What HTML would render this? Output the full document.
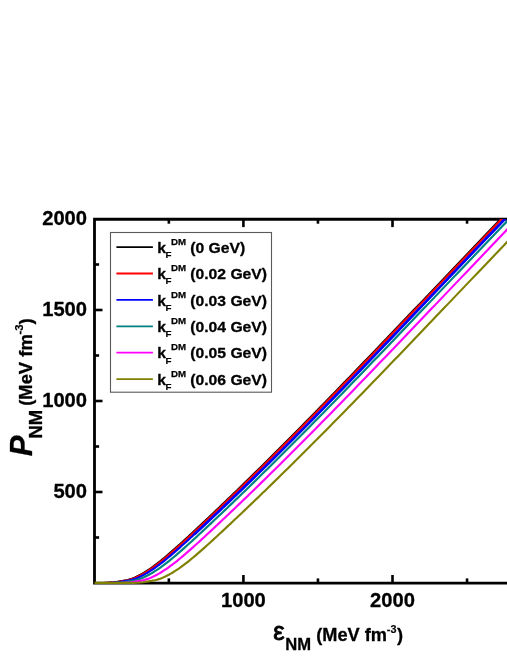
<!DOCTYPE html>
<html><head><meta charset="utf-8">
<style>
html,body{margin:0;padding:0;background:#fff;}
body{width:507px;height:656px;overflow:hidden;}
svg{display:block;will-change:transform;}
text{font-family:"Liberation Sans",sans-serif;font-weight:bold;fill:#000;stroke:#000;stroke-width:0.3px;stroke-linejoin:round;}
</style></head><body>
<svg width="507" height="656" viewBox="0 0 507 656">
<rect width="507" height="656" fill="#fff"/>
<!-- axes -->
<g stroke="#000" stroke-width="2.8" fill="none">
<path d="M510,219.25 L94.50,219.25 L94.50,583.15 L510,583.15" stroke-linejoin="miter"/>
</g>
<g stroke="#000" stroke-width="2.6">
<line x1="168.85" y1="583.00" x2="168.85" y2="578.40"/>
<line x1="168.85" y1="219.10" x2="168.85" y2="223.70"/>
<line x1="243.40" y1="583.00" x2="243.40" y2="575.00"/>
<line x1="243.40" y1="219.10" x2="243.40" y2="227.10"/>
<line x1="317.95" y1="583.00" x2="317.95" y2="578.40"/>
<line x1="317.95" y1="219.10" x2="317.95" y2="223.70"/>
<line x1="392.50" y1="583.00" x2="392.50" y2="575.00"/>
<line x1="392.50" y1="219.10" x2="392.50" y2="227.10"/>
<line x1="467.05" y1="583.00" x2="467.05" y2="578.40"/>
<line x1="467.05" y1="219.10" x2="467.05" y2="223.70"/>
<line x1="94.50" y1="537.50" x2="99.10" y2="537.50"/>
<line x1="94.50" y1="492.00" x2="102.50" y2="492.00"/>
<line x1="94.50" y1="446.50" x2="99.10" y2="446.50"/>
<line x1="94.50" y1="401.00" x2="102.50" y2="401.00"/>
<line x1="94.50" y1="355.50" x2="99.10" y2="355.50"/>
<line x1="94.50" y1="310.00" x2="102.50" y2="310.00"/>
<line x1="94.50" y1="264.50" x2="99.10" y2="264.50"/>
</g>
<!-- curves -->
<clipPath id="pc"><rect x="90" y="219.0" width="420" height="370"/></clipPath>
<g fill="none" stroke-width="2.15" stroke-linejoin="round" clip-path="url(#pc)">
<path d="M104.50,582.85 L106.50,582.81 L108.50,582.73 L110.50,582.63 L112.50,582.49 L114.50,582.27 L116.50,581.99 L118.50,581.68 L120.50,581.32 L122.50,580.96 L124.50,580.61 L126.50,580.22 L128.50,579.75 L130.50,579.15 L132.50,578.43 L134.50,577.63 L136.50,576.74 L138.50,575.78 L140.50,574.74 L142.50,573.63 L144.50,572.45 L146.50,571.21 L148.50,569.91 L150.50,568.55 L152.50,567.14 L154.50,565.68 L156.50,564.18 L158.50,562.63 L160.50,561.04 L162.50,559.42 L164.50,557.77 L166.50,556.08 L168.50,554.38 L170.50,552.65 L172.50,550.90 L174.50,549.14 L176.50,547.36 L178.50,545.56 L180.50,543.76 L182.50,541.94 L184.50,540.11 L186.50,538.27 L188.50,536.42 L190.50,534.57 L192.50,532.71 L194.50,530.84 L196.50,528.97 L198.50,527.10 L200.50,525.22 L202.50,523.35 L204.50,521.46 L206.50,519.58 L208.50,517.69 L210.50,515.80 L212.50,513.91 L214.50,512.01 L216.50,510.11 L218.50,508.20 L220.50,506.29 L222.50,504.38 L224.50,502.47 L226.50,500.55 L228.50,498.62 L230.50,496.70 L232.50,494.77 L234.50,492.84 L236.50,490.90 L238.50,488.96 L240.00,487.50 L245.00,482.64 L250.00,477.75 L255.00,472.84 L260.00,467.92 L265.00,462.97 L270.00,458.01 L275.00,453.04 L280.00,448.04 L285.00,443.03 L290.00,438.01 L295.00,432.96 L300.00,427.91 L305.00,422.84 L310.00,417.76 L315.00,412.66 L320.00,407.56 L325.00,402.44 L330.00,397.31 L335.00,392.17 L340.00,387.01 L345.00,381.85 L350.00,376.68 L355.00,371.50 L360.00,366.32 L365.00,361.12 L370.00,355.92 L375.00,350.71 L380.00,345.49 L385.00,340.27 L390.00,335.05 L395.00,329.82 L400.00,324.58 L405.00,319.35 L410.00,314.11 L415.00,308.86 L420.00,303.62 L425.00,298.37 L430.00,293.12 L435.00,287.88 L440.00,282.63 L445.00,277.38 L450.00,272.14 L455.00,266.89 L460.00,261.65 L465.00,256.41 L470.00,251.18 L475.00,245.94 L480.00,240.72 L485.00,235.49 L490.00,230.27 L495.00,225.06 L500.00,219.86 L505.00,214.66 L510.00,209.47 L515.00,204.28 L520.00,199.11" stroke="#000000"/>
<path d="M105.50,582.85 L107.50,582.81 L109.50,582.73 L111.50,582.63 L113.50,582.49 L115.50,582.27 L117.50,581.99 L119.50,581.68 L121.50,581.32 L123.50,580.96 L125.50,580.61 L127.50,580.22 L129.50,579.75 L131.50,579.15 L133.50,578.43 L135.50,577.63 L137.50,576.74 L139.50,575.78 L141.50,574.74 L143.50,573.63 L145.50,572.45 L147.50,571.21 L149.50,569.91 L151.50,568.55 L153.50,567.14 L155.50,565.68 L157.50,564.18 L159.50,562.63 L161.50,561.04 L163.50,559.42 L165.50,557.77 L167.50,556.08 L169.50,554.38 L171.50,552.65 L173.50,550.90 L175.50,549.14 L177.50,547.36 L179.50,545.56 L181.50,543.76 L183.50,541.94 L185.50,540.11 L187.50,538.27 L189.50,536.42 L191.50,534.57 L193.50,532.71 L195.50,530.84 L197.50,528.97 L199.50,527.10 L201.50,525.22 L203.50,523.35 L205.50,521.46 L207.50,519.58 L209.50,517.69 L211.50,515.80 L213.50,513.91 L215.50,512.01 L217.50,510.11 L219.50,508.20 L221.50,506.29 L223.50,504.38 L225.50,502.47 L227.50,500.55 L229.50,498.62 L231.50,496.70 L233.50,494.77 L235.50,492.84 L237.50,490.90 L239.50,488.96 L241.00,487.50 L246.00,482.64 L251.00,477.75 L256.00,472.84 L261.00,467.92 L266.00,462.97 L271.00,458.01 L276.00,453.04 L281.00,448.04 L286.00,443.03 L291.00,438.01 L296.00,432.96 L301.00,427.91 L306.00,422.84 L311.00,417.76 L316.00,412.66 L321.00,407.56 L326.00,402.44 L331.00,397.31 L336.00,392.17 L341.00,387.01 L346.00,381.85 L351.00,376.68 L356.00,371.50 L361.00,366.32 L366.00,361.12 L371.00,355.92 L376.00,350.71 L381.00,345.49 L386.00,340.27 L391.00,335.05 L396.00,329.82 L401.00,324.58 L406.00,319.35 L411.00,314.11 L416.00,308.86 L421.00,303.62 L426.00,298.37 L431.00,293.12 L436.00,287.88 L441.00,282.63 L446.00,277.38 L451.00,272.14 L456.00,266.89 L461.00,261.65 L466.00,256.41 L471.00,251.18 L476.00,245.94 L481.00,240.72 L486.00,235.49 L491.00,230.27 L496.00,225.06 L501.00,219.86 L506.00,214.66 L511.00,209.47 L516.00,204.28 L521.00,199.11" stroke="#ff0000"/>
<path d="M107.90,582.85 L109.90,582.81 L111.90,582.73 L113.90,582.63 L115.90,582.49 L117.90,582.27 L119.90,581.99 L121.90,581.68 L123.90,581.32 L125.90,580.96 L127.90,580.61 L129.90,580.22 L131.90,579.75 L133.90,579.15 L135.90,578.43 L137.90,577.63 L139.90,576.74 L141.90,575.78 L143.90,574.74 L145.90,573.63 L147.90,572.45 L149.90,571.21 L151.90,569.91 L153.90,568.55 L155.90,567.14 L157.90,565.68 L159.90,564.18 L161.90,562.63 L163.90,561.04 L165.91,559.42 L167.92,557.77 L169.93,556.08 L171.94,554.38 L173.95,552.65 L175.96,550.90 L177.97,549.14 L179.98,547.36 L181.99,545.56 L184.00,543.76 L186.01,541.94 L188.02,540.11 L190.03,538.27 L192.04,536.42 L194.05,534.57 L196.06,532.71 L198.07,530.84 L200.08,528.97 L202.09,527.10 L204.10,525.22 L206.11,523.35 L208.12,521.46 L210.13,519.58 L212.14,517.69 L214.15,515.80 L216.16,513.91 L218.17,512.01 L220.18,510.11 L222.19,508.20 L224.20,506.29 L226.21,504.38 L228.22,502.47 L230.23,500.55 L232.24,498.62 L234.25,496.70 L236.26,494.77 L238.27,492.84 L240.28,490.90 L242.29,488.96 L243.80,487.50 L248.82,482.64 L253.85,477.75 L258.88,472.84 L263.90,467.92 L268.93,462.97 L273.95,458.01 L278.98,453.04 L284.00,448.04 L289.02,443.03 L294.05,438.01 L299.07,432.96 L304.10,427.91 L309.10,422.84 L314.10,417.76 L319.10,412.66 L324.10,407.56 L329.10,402.44 L334.10,397.31 L339.10,392.17 L344.10,387.01 L349.10,381.85 L354.10,376.68 L359.10,371.50 L364.10,366.32 L369.10,361.12 L374.10,355.92 L379.10,350.71 L384.10,345.49 L389.10,340.27 L394.10,335.05 L399.10,329.82 L404.10,324.58 L409.10,319.35 L414.10,314.11 L419.10,308.86 L424.10,303.62 L429.10,298.37 L434.10,293.12 L439.10,287.88 L444.10,282.63 L449.10,277.38 L454.10,272.14 L459.10,266.89 L464.10,261.65 L469.10,256.41 L474.10,251.18 L479.10,245.94 L484.10,240.72 L489.10,235.49 L494.10,230.27 L499.10,225.06 L504.10,219.86 L509.10,214.66 L514.10,209.47 L519.10,204.28 L524.10,199.11" stroke="#0000ff"/>
<path d="M194.05,534.57 L196.06,532.71 L198.07,530.84 L200.08,528.97 L202.09,527.10 L204.10,525.22 L206.11,523.35 L208.12,521.46 L210.13,519.58 L212.14,517.69 L214.15,515.80 L216.16,513.91 L218.17,512.01 L220.18,510.11 L222.19,508.20 L224.20,506.29 L226.21,504.38 L228.22,502.47 L230.23,500.55 L232.24,498.62 L234.25,496.70 L236.26,494.77 L238.27,492.84 L240.28,490.90 L242.29,488.96 L243.80,487.50 L248.82,482.64 L253.85,477.75 L258.88,472.84 L263.90,467.92 L268.93,462.97 L273.95,458.01 L278.98,453.04 L284.00,448.04 L289.02,443.03 L294.05,438.01 L299.07,432.96 L304.10,427.91 L309.10,422.84 L314.10,417.76 L319.10,412.66 L324.10,407.56 L329.10,402.44 L334.10,397.31 L339.10,392.17 L344.10,387.01 L349.10,381.85 L354.10,376.68 L359.10,371.50 L364.10,366.32 L369.10,361.12 L374.10,355.92 L379.10,350.71 L384.10,345.49 L389.10,340.27 L394.10,335.05 L399.10,329.82 L404.10,324.58 L409.10,319.35 L414.10,314.11 L419.10,308.86 L424.10,303.62 L429.10,298.37 L434.10,293.12 L439.10,287.88 L444.10,282.63 L449.10,277.38 L454.10,272.14 L459.10,266.89 L464.10,261.65 L469.10,256.41 L474.10,251.18 L479.10,245.94 L484.10,240.72 L489.10,235.49 L494.10,230.27 L499.10,225.06 L504.10,219.86 L509.10,214.66 L514.10,209.47 L519.10,204.28 L524.10,199.11" stroke="#0000ff" stroke-width="2.55"/>
<path d="M112.95,582.85 L114.95,582.81 L116.95,582.73 L118.95,582.63 L120.95,582.49 L122.95,582.27 L124.95,581.99 L126.95,581.68 L128.95,581.32 L130.95,580.96 L132.95,580.61 L134.95,580.22 L136.95,579.75 L138.95,579.15 L140.95,578.43 L142.95,577.63 L144.95,576.74 L146.95,575.78 L148.95,574.74 L150.95,573.63 L152.95,572.45 L154.95,571.21 L156.95,569.91 L158.95,568.55 L160.95,567.14 L162.95,565.68 L164.95,564.18 L166.95,562.63 L168.95,561.04 L170.95,559.42 L172.95,557.77 L174.95,556.08 L176.95,554.38 L178.95,552.65 L180.95,550.90 L182.95,549.14 L184.95,547.36 L186.95,545.56 L188.95,543.76 L190.95,541.94 L192.95,540.11 L194.95,538.27 L196.95,536.42 L198.95,534.57 L200.95,532.71 L202.95,530.84 L204.95,528.97 L206.95,527.10 L208.95,525.22 L210.95,523.35 L212.95,521.46 L214.95,519.58 L216.95,517.69 L218.95,515.80 L220.95,513.91 L222.95,512.01 L224.95,510.11 L226.95,508.20 L228.95,506.29 L230.95,504.38 L232.95,502.47 L234.95,500.55 L236.95,498.62 L238.95,496.70 L240.95,494.77 L242.95,492.84 L244.95,490.90 L246.95,488.96 L248.45,487.50 L253.45,482.64 L258.45,477.75 L263.45,472.84 L268.45,467.92 L273.45,462.97 L278.45,458.01 L283.45,453.04 L288.45,448.04 L293.45,443.03 L298.45,438.01 L303.45,432.96 L308.45,427.91 L313.45,422.84 L318.45,417.76 L323.45,412.66 L328.45,407.56 L333.45,402.44 L338.45,397.31 L343.45,392.17 L348.45,387.01 L353.45,381.85 L358.45,376.68 L363.45,371.50 L368.45,366.32 L373.45,361.12 L378.45,355.92 L383.45,350.71 L388.45,345.49 L393.45,340.27 L398.45,335.05 L403.45,329.82 L408.45,324.58 L413.45,319.35 L418.45,314.11 L423.45,308.86 L428.45,303.62 L433.45,298.37 L438.45,293.12 L443.45,287.88 L448.45,282.63 L453.45,277.38 L458.45,272.14 L463.45,266.89 L468.45,261.65 L473.45,256.41 L478.45,251.18 L483.45,245.94 L488.45,240.72 L493.45,235.49 L498.45,230.27 L503.45,225.06 L508.45,219.86 L513.45,214.66 L518.45,209.47 L523.45,204.28 L528.45,199.11" stroke="#008080"/>
<path d="M120.90,582.85 L122.90,582.81 L124.90,582.73 L126.90,582.63 L128.90,582.49 L130.90,582.27 L132.90,581.99 L134.90,581.68 L136.90,581.32 L138.90,580.96 L140.90,580.61 L142.90,580.22 L144.90,579.75 L146.90,579.15 L148.90,578.43 L150.90,577.63 L152.90,576.74 L154.90,575.78 L156.90,574.74 L158.90,573.63 L160.90,572.45 L162.90,571.21 L164.90,569.91 L166.90,568.55 L168.90,567.14 L170.90,565.68 L172.90,564.18 L174.90,562.63 L176.90,561.04 L178.90,559.42 L180.90,557.77 L182.90,556.08 L184.90,554.38 L186.90,552.65 L188.90,550.90 L190.90,549.14 L192.90,547.36 L194.90,545.56 L196.90,543.76 L198.90,541.94 L200.90,540.11 L202.90,538.27 L204.90,536.42 L206.90,534.57 L208.90,532.71 L210.90,530.84 L212.90,528.97 L214.90,527.10 L216.90,525.22 L218.90,523.35 L220.90,521.46 L222.90,519.58 L224.90,517.69 L226.90,515.80 L228.90,513.91 L230.90,512.01 L232.90,510.11 L234.90,508.20 L236.90,506.29 L238.90,504.38 L240.90,502.47 L242.90,500.55 L244.90,498.62 L246.90,496.70 L248.90,494.77 L250.90,492.84 L252.90,490.90 L254.90,488.96 L256.40,487.50 L261.40,482.64 L266.40,477.75 L271.40,472.84 L276.40,467.92 L281.40,462.97 L286.40,458.01 L291.40,453.04 L296.40,448.04 L301.40,443.03 L306.40,438.01 L311.40,432.96 L316.40,427.91 L321.40,422.84 L326.40,417.76 L331.40,412.66 L336.40,407.56 L341.40,402.44 L346.40,397.31 L351.40,392.17 L356.40,387.01 L361.40,381.85 L366.40,376.68 L371.40,371.50 L376.40,366.32 L381.40,361.12 L386.40,355.92 L391.40,350.71 L396.40,345.49 L401.40,340.27 L406.40,335.05 L411.40,329.82 L416.40,324.58 L421.40,319.35 L426.40,314.11 L431.40,308.86 L436.40,303.62 L441.40,298.37 L446.40,293.12 L451.40,287.88 L456.40,282.63 L461.40,277.38 L466.40,272.14 L471.40,266.89 L476.40,261.65 L481.40,256.41 L486.40,251.18 L491.40,245.94 L496.40,240.72 L501.40,235.49 L506.40,230.27 L511.40,225.06 L516.40,219.86 L521.40,214.66 L526.40,209.47 L531.40,204.28 L536.40,199.11" stroke="#ff00ff"/>
<path d="M94.5,582.85 L122.80,582.85 L124.80,582.85 L126.80,582.85 L128.80,582.85 L130.80,582.85 L132.80,582.85 L134.80,582.81 L136.80,582.73 L138.80,582.63 L140.80,582.49 L142.80,582.27 L144.80,581.99 L146.80,581.68 L148.80,581.32 L150.80,580.96 L152.80,580.61 L154.80,580.22 L156.80,579.75 L158.80,579.15 L160.80,578.43 L162.80,577.63 L164.80,576.74 L166.80,575.78 L168.80,574.74 L170.80,573.63 L172.80,572.45 L174.80,571.21 L176.80,569.91 L178.80,568.55 L180.80,567.14 L182.80,565.68 L184.80,564.18 L186.80,562.63 L188.80,561.04 L190.80,559.42 L192.80,557.77 L194.80,556.08 L196.80,554.38 L198.80,552.65 L200.80,550.90 L202.80,549.14 L204.80,547.36 L206.80,545.56 L208.80,543.76 L210.80,541.94 L212.80,540.11 L214.80,538.27 L216.80,536.42 L218.80,534.57 L220.80,532.71 L222.80,530.84 L224.80,528.97 L226.80,527.10 L228.80,525.22 L230.80,523.35 L232.80,521.46 L234.80,519.58 L236.80,517.69 L238.80,515.80 L240.80,513.91 L242.80,512.01 L244.80,510.11 L246.80,508.20 L248.80,506.29 L250.80,504.38 L252.80,502.47 L254.80,500.55 L256.80,498.62 L258.80,496.70 L260.80,494.77 L262.80,492.84 L264.80,490.90 L266.80,488.96 L268.30,487.50 L273.30,482.64 L278.30,477.75 L283.30,472.84 L288.30,467.92 L293.30,462.97 L298.30,458.01 L303.30,453.04 L308.30,448.04 L313.30,443.03 L318.30,438.01 L323.30,432.96 L328.30,427.91 L333.30,422.84 L338.30,417.76 L343.30,412.66 L348.30,407.56 L353.30,402.44 L358.30,397.31 L363.30,392.17 L368.30,387.01 L373.30,381.85 L378.30,376.68 L383.30,371.50 L388.30,366.32 L393.30,361.12 L398.30,355.92 L403.30,350.71 L408.30,345.49 L413.30,340.27 L418.30,335.05 L423.30,329.82 L428.30,324.58 L433.30,319.35 L438.30,314.11 L443.30,308.86 L448.30,303.62 L453.30,298.37 L458.30,293.12 L463.30,287.88 L468.30,282.63 L473.30,277.38 L478.30,272.14 L483.30,266.89 L488.30,261.65 L493.30,256.41 L498.30,251.18 L503.30,245.94 L508.30,240.72 L513.30,235.49 L518.30,230.27 L523.30,225.06 L528.30,219.86 L533.30,214.66 L538.30,209.47 L543.30,204.28 L548.30,199.11" stroke="#808000"/>
</g>
<!-- legend -->
<rect x="110.5" y="232.5" width="161" height="159.7" fill="#fff" stroke="#5a5a5a" stroke-width="1.1"/>
<line x1="116.4" y1="247.10" x2="152.9" y2="247.10" stroke="#000000" stroke-width="1.8"/>
<text transform="translate(157.2,252.75) scale(1.035,1)" font-size="15.2">k</text><text x="165.6" y="257.90" font-size="9.8" style="stroke-width:0.15px">F</text><text x="171" y="244.80" font-size="9.7" style="stroke-width:0.25px">DM</text><text transform="translate(190.2,252.75) scale(1.035,1)" font-size="15.2">(0 GeV)</text>
<line x1="116.4" y1="273.50" x2="152.9" y2="273.50" stroke="#ff0000" stroke-width="1.8"/>
<text transform="translate(157.2,279.15) scale(1.035,1)" font-size="15.2">k</text><text x="165.6" y="284.30" font-size="9.8" style="stroke-width:0.15px">F</text><text x="171" y="271.20" font-size="9.7" style="stroke-width:0.25px">DM</text><text transform="translate(190.2,279.15) scale(1.035,1)" font-size="15.2">(0.02 GeV)</text>
<line x1="116.4" y1="299.90" x2="152.9" y2="299.90" stroke="#0000ff" stroke-width="1.8"/>
<text transform="translate(157.2,305.55) scale(1.035,1)" font-size="15.2">k</text><text x="165.6" y="310.70" font-size="9.8" style="stroke-width:0.15px">F</text><text x="171" y="297.60" font-size="9.7" style="stroke-width:0.25px">DM</text><text transform="translate(190.2,305.55) scale(1.035,1)" font-size="15.2">(0.03 GeV)</text>
<line x1="116.4" y1="326.30" x2="152.9" y2="326.30" stroke="#008080" stroke-width="1.8"/>
<text transform="translate(157.2,331.95) scale(1.035,1)" font-size="15.2">k</text><text x="165.6" y="337.10" font-size="9.8" style="stroke-width:0.15px">F</text><text x="171" y="324.00" font-size="9.7" style="stroke-width:0.25px">DM</text><text transform="translate(190.2,331.95) scale(1.035,1)" font-size="15.2">(0.04 GeV)</text>
<line x1="116.4" y1="352.70" x2="152.9" y2="352.70" stroke="#ff00ff" stroke-width="1.8"/>
<text transform="translate(157.2,358.35) scale(1.035,1)" font-size="15.2">k</text><text x="165.6" y="363.50" font-size="9.8" style="stroke-width:0.15px">F</text><text x="171" y="350.40" font-size="9.7" style="stroke-width:0.25px">DM</text><text transform="translate(190.2,358.35) scale(1.035,1)" font-size="15.2">(0.05 GeV)</text>
<line x1="116.4" y1="379.10" x2="152.9" y2="379.10" stroke="#808000" stroke-width="1.8"/>
<text transform="translate(157.2,384.75) scale(1.035,1)" font-size="15.2">k</text><text x="165.6" y="389.90" font-size="9.8" style="stroke-width:0.15px">F</text><text x="171" y="376.80" font-size="9.7" style="stroke-width:0.25px">DM</text><text transform="translate(190.2,384.75) scale(1.035,1)" font-size="15.2">(0.06 GeV)</text>

<!-- tick labels -->
<g font-size="20.9">
<text transform="translate(87.0,498.35) scale(0.965,1)" text-anchor="end">500</text>
<text transform="translate(87.0,407.35) scale(0.965,1)" text-anchor="end">1000</text>
<text transform="translate(87.0,316.35) scale(0.965,1)" text-anchor="end">1500</text>
<text transform="translate(87.0,225.35) scale(0.965,1)" text-anchor="end">2000</text>

<text transform="translate(243.40,606.9) scale(0.965,1)" text-anchor="middle">1000</text>
<text transform="translate(392.50,606.9) scale(0.965,1)" text-anchor="middle">2000</text>

</g>
<!-- x title -->
<text x="273.3" y="640.4" font-size="25.5" style="font-weight:normal;stroke-width:0.9px">&#949;</text>
<text x="285.2" y="650" font-size="16.6">NM</text>
<text x="316.3" y="640.5" font-size="18.2">(MeV fm</text>
<text x="386.8" y="633.1" font-size="10.8" style="stroke-width:0.2px">-3</text>
<text x="396.9" y="640.5" font-size="18.2">)</text>
<!-- y title -->
<g transform="translate(0,0) rotate(-90)">
<text x="-456.2" y="32" font-size="31.2" font-style="italic">P</text>
<text x="-438.5" y="42.1" font-size="18.5">NM</text>
<text x="-405.8" y="31.8" font-size="18.4">(MeV fm</text>
<text x="-334.5" y="22.7" font-size="11.3" style="stroke-width:0.2px">-3</text>
<text x="-324.5" y="31.8" font-size="18.8">)</text>
</g>
</svg>
</body></html>
